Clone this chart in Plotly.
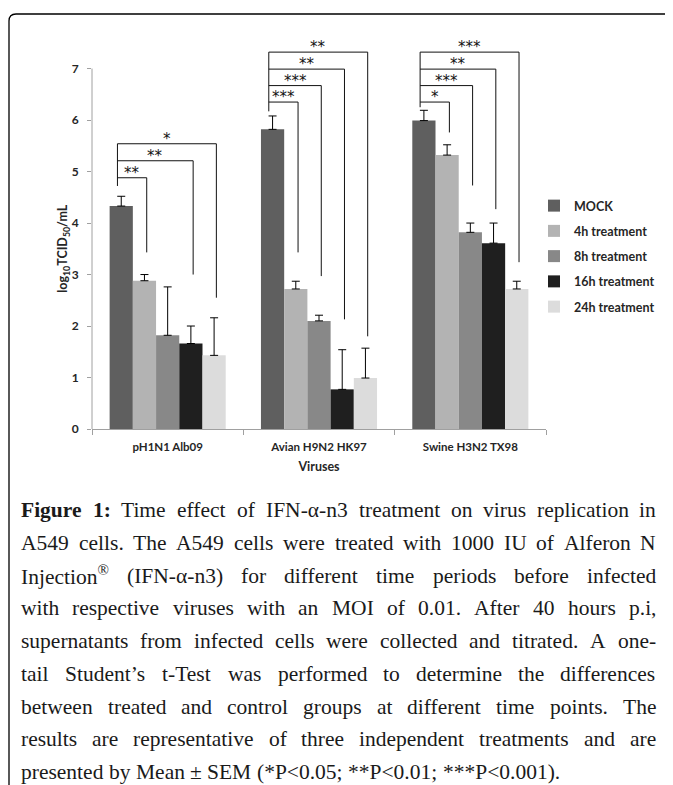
import re
import plotly.graph_objects as go

# ---------------- data ----------------
viruses = ["pH1N1 Alb09", "Avian H9N2 HK97", "Swine H3N2 TX98"]
treatments = ["MOCK", "4h treatment", "8h treatment", "16h treatment", "24h treatment"]

mock = [4.33, 5.82, 5.99]
h4 = [2.88, 2.72, 5.32]
h8 = [1.82, 2.10, 3.82]
h16 = [1.66, 0.77, 3.61]
h24 = [1.43, 0.99, 2.72]

sem_mock = [0.19, 0.26, 0.20]
sem_h4 = [0.12, 0.15, 0.20]
sem_h8 = [0.94, 0.11, 0.18]
sem_h16 = [0.34, 0.77, 0.39]
sem_h24 = [0.73, 0.58, 0.15]

y_ticks = [0, 1, 2, 3, 4, 5, 6, 7]

# significance brackets (MOCK vs treatment)
sig_virus = [0, 0, 0, 1, 1, 1, 1, 2, 2, 2, 2]
sig_treat = [1, 3, 4, 1, 2, 3, 4, 1, 2, 3, 4]
sig_label = ["**", "**", "*", "***", "***", "**", "**", "*", "***", "**", "***"]
sig_level = [4.88, 5.21, 5.54, 6.35, 6.67, 6.99, 7.32, 6.35, 6.67, 6.99, 7.32]
sig_end = [3.43, 3.00, 2.55, 3.43, 2.97, 2.13, 1.80, 5.76, 4.73, 4.27, 3.24]
sig_start = [4.72, 6.17, 6.25]

caption_lines = [
    "<b>Figure</b> <b>1:</b> Time effect of IFN-α-n3 treatment on virus replication in",
    "A549 cells. The A549 cells were treated with 1000 IU of Alferon N",
    "Injection<sup>®</sup> (IFN-α-n3) for different time periods before infected",
    "with respective viruses with an MOI of 0.01. After 40 hours p.i,",
    "supernatants from infected cells were collected and titrated. A one-",
    "tail Student’s t-Test was performed to determine the differences",
    "between treated and control groups at different time points. The",
    "results are representative of three independent treatments and are",
    "presented by Mean ± SEM (*P<0.05; **P<0.01; ***P<0.001).",
]

# ---------------- style / layout ----------------
OFF = 8                      # body margin of the html page
W, H = 673 - OFF, 785 - OFF
ML, MR, MT, MB = 84, 127, 40, 356
PW, PH = W - ML - MR, H - MT - MB
YMAX = 7.4
BARGAP = 0.233
colors = ["#5f5f5f", "#b3b3b3", "#888888", "#1f1f1f", "#dcdcdc"]
FONT = "Lato"
TXT = "#262626"
AX = "#a0a0a0"
CAP_FONT = "Liberation Serif"
CAP_SIZE = 21.5
CAP_LEFT, CAP_RIGHT = 20, 655
CAP_TOP, CAP_STEP = 510, 32.75


def px_x(px):
    return (px - OFF - ML) / PW


def px_y(py):
    return 1 - (py - OFF - MT) / PH


# Times / Liberation Serif advance widths (1/1000 em)
REG = {" ": 250, "!": 333, "(": 333, ")": 333, "*": 500, "+": 564, ",": 250, "-": 333,
       ".": 250, "/": 278, ":": 278, ";": 278, "<": 564, ">": 564, "±": 564, "’": 333,
       "®": 760, "α": 550,
       "A": 722, "B": 667, "C": 667, "D": 722, "E": 611, "F": 556, "G": 722, "H": 722,
       "I": 333, "J": 389, "K": 722, "L": 611, "M": 889, "N": 722, "O": 722, "P": 556,
       "Q": 722, "R": 667, "S": 556, "T": 611, "U": 722, "V": 722, "W": 944, "X": 722,
       "Y": 722, "Z": 611,
       "a": 444, "b": 500, "c": 444, "d": 500, "e": 444, "f": 333, "g": 500, "h": 500,
       "i": 278, "j": 278, "k": 500, "l": 278, "m": 778, "n": 500, "o": 500, "p": 500,
       "q": 500, "r": 333, "s": 389, "t": 278, "u": 500, "v": 500, "w": 722, "x": 500,
       "y": 500, "z": 444}
for d in "0123456789":
    REG[d] = 500
BOLD = dict(REG)
BOLD.update({"F": 611, "i": 278, "g": 500, "u": 556, "r": 444, "e": 444, "1": 500, ":": 333})


def segments(word):
    out, pos = [], 0
    for m in re.finditer(r"<(b|sup)>(.*?)</\1>", word):
        if m.start() > pos:
            out.append((word[pos:m.start()], "r"))
        out.append((m.group(2), m.group(1)))
        pos = m.end()
    if pos < len(word):
        out.append((word[pos:], "r"))
    return out


def word_width(word, size):
    w = 0.0
    for txt, st in segments(word):
        table = BOLD if st == "b" else REG
        f = 0.7 if st == "sup" else 1.0
        for ch in txt:
            w += table.get(ch, 500) * f
    return w / 1000 * size


values = [mock, h4, h8, h16, h24]
sems = [sem_mock, sem_h4, sem_h8, sem_h16, sem_h24]

fig = go.Figure()
for i, name in enumerate(treatments):
    fig.add_trace(go.Bar(
        x=viruses, y=values[i], name=name, legendgroup=name,
        marker=dict(color=colors[i], line=dict(width=0)),
        error_y=dict(type="data", array=sems[i], arrayminus=[0] * len(viruses),
                     symmetric=False, color="#000000", thickness=1, width=4),
    ))

slot = (1 - BARGAP) / len(treatments)


def bar_center(v, t):
    return v - (1 - BARGAP) / 2 + (t + 0.5) * slot


shapes = []
annotations = []
line_style = dict(color="#111111", width=1)
for v in range(len(viruses)):
    levels = [sig_level[k] for k in range(len(sig_virus)) if sig_virus[k] == v]
    xl = bar_center(v, 0) - 0.025
    shapes.append(dict(type="line", xref="x", yref="y", x0=xl, x1=xl,
                       y0=sig_start[v], y1=max(levels), line=line_style))
for k in range(len(sig_virus)):
    v = sig_virus[k]
    xl = bar_center(v, 0) - 0.025
    xr = bar_center(v, sig_treat[k]) + 0.015
    shapes.append(dict(type="line", xref="x", yref="y", x0=xl, x1=xr,
                       y0=sig_level[k], y1=sig_level[k], line=line_style))
    shapes.append(dict(type="line", xref="x", yref="y", x0=xr, x1=xr,
                       y0=sig_level[k], y1=sig_end[k], line=line_style))
    annotations.append(dict(x=(xl + xr) / 2, y=sig_level[k], xref="x", yref="y",
                            text=sig_label[k], showarrow=False, yanchor="bottom",
                            yshift=-6, font=dict(family="DejaVu Sans", size=15, color="#111111")))

# y axis line from 0 to 7
shapes.append(dict(type="line", xref="paper", yref="y", x0=0, x1=0, y0=0, y1=y_ticks[-1],
                   line=dict(color=AX, width=1)))

# frame around figure (rounded top-left corner)
fx0, fy0, r = 9, 14, 7
shapes.append(dict(
    type="path", xref="paper", yref="paper",
    path=(f"M {px_x(700)},{px_y(fy0)} L {px_x(fx0 + r)},{px_y(fy0)} "
          f"Q {px_x(fx0)},{px_y(fy0)} {px_x(fx0)},{px_y(fy0 + r)} "
          f"L {px_x(fx0)},{px_y(800)}"),
    line=dict(color="#000000", width=1.3)))

# y axis title
annotations.append(dict(x=px_x(64), y=3.5, xref="paper", yref="y", textangle=-90,
                        xanchor="center", yanchor="middle",
                        text="log<sub>10</sub>TCID<sub>50</sub>/mL", showarrow=False,
                        font=dict(family=FONT, size=12.5, color=TXT, weight="bold")))

# caption, justified word by word
for j, line in enumerate(caption_lines):
    words = line.split(" ")
    widths = [word_width(w_, CAP_SIZE) for w_ in words]
    if j < len(caption_lines) - 1 and len(words) > 1:
        gap = (CAP_RIGHT - CAP_LEFT - sum(widths)) / (len(words) - 1)
    else:
        gap = REG[" "] / 1000 * CAP_SIZE
    xpos = CAP_LEFT
    for w_, wd in zip(words, widths):
        annotations.append(dict(x=px_x(xpos), y=px_y(CAP_TOP + j * CAP_STEP),
                                xref="paper", yref="paper", xanchor="left", yanchor="middle",
                                text=w_, showarrow=False, borderpad=0,
                                font=dict(family=CAP_FONT, size=CAP_SIZE, color="#1a1a1a")))
        xpos += wd + gap

fig.update_layout(
    width=W, height=H,
    margin=dict(l=ML, r=MR, t=MT, b=MB, pad=0),
    paper_bgcolor="white", plot_bgcolor="white",
    barmode="group", bargap=BARGAP, bargroupgap=0,
    font=dict(family=FONT, color=TXT),
    showlegend=True,
    legend=dict(x=px_x(534), y=px_y(191), xanchor="left", yanchor="top",
                font=dict(family=FONT, size=12.5, color=TXT, weight="bold"),
                tracegroupgap=6, bgcolor="rgba(0,0,0,0)"),
    xaxis=dict(type="category", showline=True, linecolor=AX, linewidth=1,
               ticks="outside", tickson="boundaries", ticklen=5, tickcolor=AX,
               showgrid=False, zeroline=False,
               tickfont=dict(family=FONT, size=11.5, color=TXT, weight="bold"),
               ticklabelstandoff=7,
               title=dict(text="Viruses", standoff=10,
                          font=dict(family=FONT, size=12.5, color=TXT, weight="bold"))),
    yaxis=dict(range=[0, YMAX], tickvals=y_ticks, showline=False, showgrid=False,
               zeroline=False, ticks="outside", ticklen=4, tickcolor=AX,
               ticklabelstandoff=6,
               tickfont=dict(family=FONT, size=12, color=TXT, weight="bold")),
    shapes=shapes, annotations=annotations,
)

fig.write_html("out.html")
